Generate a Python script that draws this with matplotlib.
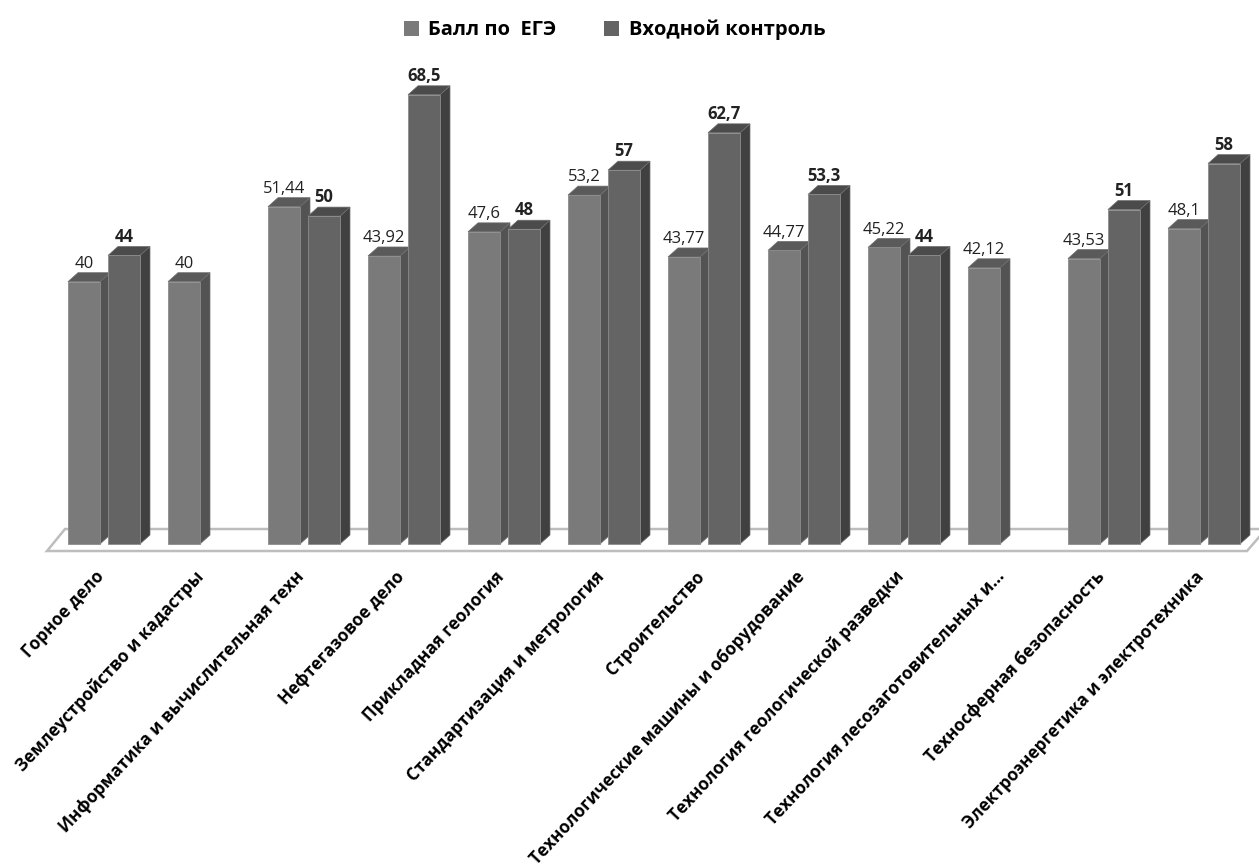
import numpy as np
import matplotlib
matplotlib.use('Agg')
import matplotlib.pyplot as plt
from matplotlib.patches import Polygon, Patch

plt.rcParams['font.family'] = ['Open Sans', 'DejaVu Sans']

categories = ['Горное дело', 'Землеустройство и кадастры',
              'Информатика и вычислительная техн', 'Нефтегазовое дело',
              'Прикладная геология', 'Стандартизация и метрология',
              'Строительство', 'Технологические машины и оборудование',
              'Технология геологической разведки',
              'Технология лесозаготовительных и...',
              'Техносферная безопасность', 'Электроэнергетика и электротехника']
ege = [40, 40, 51.44, 43.92, 47.6, 53.2, 43.77, 44.77, 45.22, 42.12, 43.53, 48.1]
entry = [44, np.nan, 50, 68.5, 48, 57, 62.7, 53.3, 44, np.nan, 51, 58]
series_names = ['Балл по  ЕГЭ', 'Входной контроль']

# front / side / top shades for each series
shades = [('#7a7a7a', '#535353', '#5a5a5a'),
          ('#646464', '#404040', '#4b4b4b')]

fig = plt.figure(figsize=(12.59, 8.66), dpi=100)
ax = fig.add_axes([0, 0.3718, 1, 0.5589])
ax.set_xlim(-1.04, 11.55)
ax.set_ylim(0, 73.8)

px_y = 73.8 / (0.5589 * 866)   # data units per pixel, vertical
dx, dy = 0.10, 9 * px_y        # depth offset of the 3d boxes
w = 0.32
offsets = [-0.2, 0.2]

# floor
floor = Polygon([(-0.57, -7 * px_y), (11.43, -7 * px_y), (11.62, 15 * px_y), (-0.39, 15 * px_y)],
                closed=True, facecolor='white', edgecolor='#bdbdbd', lw=1.8, zorder=1, clip_on=False)
ax.add_patch(floor)


def box(x0, v, cols):
    front, side, top = cols
    x1 = x0 + w
    ax.add_patch(Polygon([(x1, 0), (x1 + dx, dy), (x1 + dx, v + dy), (x1, v)],
                         facecolor=side, edgecolor='#6e6e6e', lw=0.5, zorder=3, clip_on=False))
    ax.add_patch(Polygon([(x0, v), (x0 + dx, v + dy), (x1 + dx, v + dy), (x1, v)],
                         facecolor=top, edgecolor='#6e6e6e', lw=0.5, zorder=3, clip_on=False))
    ax.bar(x0, v, width=w, align='edge', color=front, edgecolor='#8c8c8c', lw=0.6, zorder=3,
           clip_on=False)


for i in range(len(categories)):
    for s, vals in enumerate([ege, entry]):
        v = vals[i]
        if np.isnan(v):
            continue
        x0 = i + offsets[s] - w / 2
        box(x0, v, shades[s])
        ax.annotate(f'{v:g}'.replace('.', ','), (i + offsets[s], v), xytext=(0, 7),
                    textcoords='offset points', ha='center', va='bottom', fontsize=12,
                    fontweight='bold' if s == 1 else 'normal', color='#222222', zorder=5)

# labels end a little left of the group centre
ax.set_xticks(np.arange(len(categories)) - 0.09)
ax.set_xticklabels(categories, rotation=47, ha='right', va='top', rotation_mode='anchor',
                   fontsize=12.3, fontweight='bold')
ax.tick_params(axis='x', length=0, pad=17)
ax.set_yticks([])
for sp in ax.spines.values():
    sp.set_visible(False)
ax.patch.set_alpha(0)

handles = [Patch(facecolor=shades[0][0]), Patch(facecolor=shades[1][0])]
fig.legend(handles, series_names, loc='upper center', bbox_to_anchor=(0.488, 0.998), ncol=2,
           frameon=False, handlelength=0.75, handleheight=0.75, handletextpad=0.45,
           columnspacing=2.4, prop={'weight': 'bold', 'size': 14.5})

fig.savefig('out.png', dpi=100)
